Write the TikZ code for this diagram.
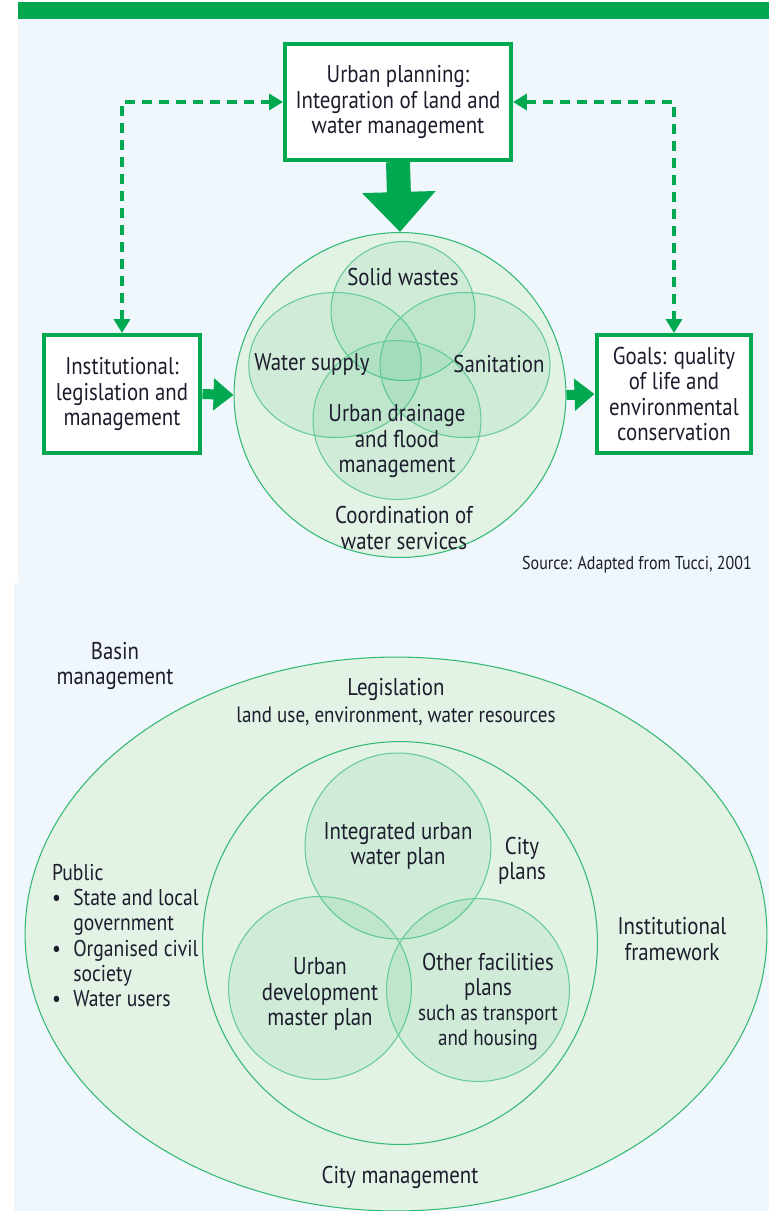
\documentclass[tikz,border=0pt]{standalone}
\usepackage{fontspec}
\setmainfont{PT Sans}[FakeStretch=0.86]
\usepackage{tikz}
\usetikzlibrary{shapes,arrows.meta,positioning,calc}
\definecolor{leafgreen}{RGB}{0,168,80}
\definecolor{panelblue}{RGB}{239,247,253}
\definecolor{palegreen}{RGB}{226,242,228}
\definecolor{inkblue}{RGB}{28,28,45}

\begin{document}
\begin{tikzpicture}[x=0.02cm,y=-0.02cm]
    % Define styles
    \tikzstyle{box} = [rectangle, draw=leafgreen, line width=0.08cm, fill=white, text=inkblue, align=center, font=\fontsize{13.8}{14.3}\selectfont, inner sep=0pt]
    \tikzstyle{label} = [text=inkblue, align=center, font=\fontsize{13.8}{14.3}\selectfont, inner sep=1pt]
    \tikzstyle{smalllabel} = [text=inkblue, align=center, font=\fontsize{12.6}{14.5}\selectfont, inner sep=1pt]
    \tikzstyle{field} = [ellipse, draw=leafgreen!80, line width=0.6pt, fill=palegreen, inner sep=0pt]
    \tikzstyle{venn} = [ellipse, draw=leafgreen!60, line width=0.6pt, fill=leafgreen, fill opacity=0.08, inner sep=0pt]
    \tikzstyle{dasharrow} = [leafgreen, line width=0.08cm, dash pattern=on 0.2cm off 0.14cm, {Triangle[length=0.28cm,width=0.32cm]}-{Triangle[length=0.28cm,width=0.32cm]}]
    \tikzstyle{bigarrow} = [leafgreen, line width=0.48cm, -{Triangle[length=0.8cm,width=1.42cm]}]
    \tikzstyle{sidearrow} = [leafgreen, line width=0.2cm, -{Triangle[length=0.4cm,width=0.62cm]}]

    \useasboundingbox (0,0) rectangle (769,1211);

    % Panels
    \fill[leafgreen] (18,2) rectangle (769,19);
    \fill[panelblue] (18,19) rectangle (769,583);
    \fill[panelblue] (14,583) rectangle (769,1211);

    % Upper part: water services
    \node[field, minimum width=6.64cm, minimum height=6.5cm] (services) at (400,395) {};
    \node[venn, minimum width=2.88cm, minimum height=2.78cm] (wastes) at (403,311) {};
    \node[venn, minimum width=3.45cm, minimum height=2.9cm] (supply) at (335,365) {};
    \node[venn, minimum width=3.4cm, minimum height=2.9cm] (sanitation) at (465,365) {};
    \node[venn, minimum width=3.36cm, minimum height=3.18cm] (drainage) at (397,420) {};

    \node[label] (wasteslabel) at (403,277) {Solid wastes};
    \node[label] (supplylabel) at (312,364) {Water supply};
    \node[label] (sanitationlabel) at (499,364) {Sanitation};
    \node[label] (drainagelabel) at (397,441) {Urban drainage\\and flood\\management};
    \node[label] (serviceslabel) at (404,528) {Coordination of\\water services};

    \node[box, minimum width=4.52cm, minimum height=2.32cm] (plan) at (398,102) {Urban planning:\\Integration of land and\\water management};
    \node[box, minimum width=3.14cm, minimum height=2.36cm] (inst) at (122,394) {Institutional:\\legislation and\\management};
    \node[box, minimum width=3.1cm, minimum height=2.36cm] (goals) at (674,394) {Goals: quality\\of life and\\environmental\\conservation};

    \node[text=inkblue, font=\fontsize{10.6}{13}\selectfont, inner sep=1pt, anchor=east] (source) at (754,565) {Source: Adapted from Tucci, 2001};

    % Arrows
    \draw[bigarrow] (plan.south) -- (services.north);
    \draw[sidearrow] (inst.east) -- (services.west);
    \draw[sidearrow] (services.east) -- (goals.west);
    \draw[dasharrow] (inst.north) |- (plan.west);
    \draw[dasharrow] (plan.east) -| (goals.north);

    % Lower part: city and basin management
    \node[field, minimum width=14.84cm, minimum height=11.08cm] (city) at (396,934) {};
    \node[field, minimum width=7.9cm, minimum height=8.06cm] (cityplans) at (400,943) {};
    \node[venn, minimum size=3.72cm] (waterplan) at (398,846) {};
    \node[venn, minimum size=3.66cm] (masterplan) at (320,988) {};
    \node[venn, minimum size=3.66cm] (otherplan) at (478,990) {};

    \node[label] (basin) at (115,666) {Basin\\management};
    \node[label] (legislation) at (396,689) {Legislation};
    \node[smalllabel] (landuse) at (396,716) {land use, environment, water resources};
    \node[label] (waterplanlabel) at (398,846) {Integrated urban\\water plan};
    \node[label] (cityplanslabel) at (522,861) {City\\plans};
    \node[label] (framework) at (672,939) {Institutional\\framework};
    \node[label, anchor=north west, align=left, font=\fontsize{13}{14.3}\selectfont] (public) at (50,861) {%
        \begin{tabular}{@{}l@{\hspace{7pt}}l@{}}
        \multicolumn{2}{@{}l}{Public}\\
        \textbullet & State and local\\
                    & government\\
        \textbullet & Organised civil\\
                    & society\\
        \textbullet & Water users
        \end{tabular}};
    \node[label] (masterlabel) at (320,994) {Urban\\development\\master plan};
    \node[label] (otherlabel) at (488,977) {Other facilities\\plans};
    \node[smalllabel, below=0pt of otherlabel] (otherdetail) {such as transport\\and housing};
    \node[label] (citylabel) at (400,1177) {City management};

\end{tikzpicture}
\end{document}
